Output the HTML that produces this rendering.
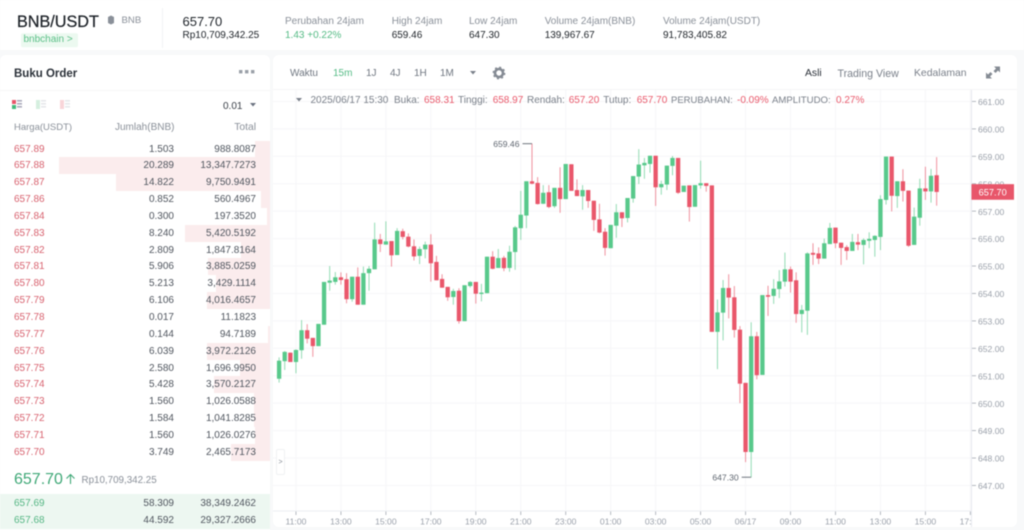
<!DOCTYPE html>
<html lang="id">
<head>
<meta charset="utf-8">
<title>BNB/USDT</title>
<style>
html,body{margin:0;padding:0;width:1024px;height:530px;overflow:hidden;background:#f8f9fa;font-family:"Liberation Sans",sans-serif;}
#page{position:relative;width:1024px;height:530px;overflow:hidden;filter:blur(0.4px);}
.card{position:absolute;background:#fff;}
.t{position:absolute;white-space:nowrap;line-height:12px;font-size:10px;color:#1e2329;transform:translateY(1.2px);}
.g{color:#8a9099;}
.gr{color:#55bb85;}
.re{color:#ea5a6c;}
.row{position:absolute;left:0;width:270px;height:16.85px;line-height:16.85px;font-size:10px;}
.row .bar{position:absolute;right:0;top:0;bottom:0;background:#fbeced;}
.row span{position:absolute;white-space:nowrap;transform:translateY(1.2px);}
.row .p{left:14px;color:#d8626f;}
.row .a{right:96px;color:#50565f;}
.row .v{right:14px;color:#50565f;}
.row.buy{background:#edf7f1;}
.row.buy .p{color:#55b684;}
#chart{position:absolute;left:0;top:0;}
</style>
</head>
<body>
<div id="page">

<div class="card" style="left:0;top:0;width:1024px;height:50px;"></div>
<div class="card" style="left:0;top:55px;width:270px;height:475px;border-radius:6px 6px 0 0;"></div>
<div class="card" style="left:273px;top:55px;width:744px;height:472px;border-radius:6px;"></div>

<span class="t" style="left:17px;top:13px;font-size:16.2px;line-height:16px;font-weight:500;color:#1e2329;-webkit-text-stroke:.25px #1e2329;">BNB/USDT</span>
<svg style="position:absolute;left:107px;top:15px;" width="8" height="10"><path d="M1 2 L4 .5 L7 2 V8 L4 9.5 L1 8 Z" fill="#8a9099"/></svg>
<span class="t g" style="left:121.5px;top:14px;font-size:9.6px;">BNB</span>
<span class="t" style="left:20.5px;top:32.3px;width:57px;height:14px;line-height:14px;background:#ecf9f0;color:#5cc088;text-indent:3px;border-radius:2px;">bnbchain &gt;</span>
<div style="position:absolute;left:162px;top:8px;width:1px;height:40px;background:#f2f3f5;"></div>

<span class="t" style="left:182.5px;top:15px;font-size:13px;">657.70</span>
<span class="t" style="left:182.5px;top:29px;">Rp10,709,342.25</span>
<span class="t g" style="left:285px;top:14.5px;">Perubahan 24jam</span>
<span class="t gr" style="left:285px;top:29px;">1.43 +0.22%</span>
<span class="t g" style="left:391.7px;top:14.5px;">High 24jam</span>
<span class="t" style="left:391.7px;top:29px;">659.46</span>
<span class="t g" style="left:469px;top:14.5px;">Low 24jam</span>
<span class="t" style="left:469px;top:29px;">647.30</span>
<span class="t g" style="left:544.7px;top:14.5px;">Volume 24jam(BNB)</span>
<span class="t" style="left:544.7px;top:29px;">139,967.67</span>
<span class="t g" style="left:663px;top:14.5px;">Volume 24jam(USDT)</span>
<span class="t" style="left:663px;top:29px;">91,783,405.82</span>

<!-- order book -->
<span class="t" style="left:14px;top:67px;font-size:11.5px;font-weight:bold;color:#2b3139;">Buku Order</span>
<svg style="position:absolute;left:238px;top:69px;" width="18" height="6"><rect x="1" y="1" width="3.4" height="3.4" fill="#9aa0a8"/><rect x="7" y="1" width="3.4" height="3.4" fill="#9aa0a8"/><rect x="13" y="1" width="3.4" height="3.4" fill="#9aa0a8"/></svg>
<div style="position:absolute;left:0;top:90px;width:270px;height:1px;background:#f6f6f7;"></div>
<svg style="position:absolute;left:12px;top:100px;" width="60" height="10">
<rect x="0" y="0" width="4" height="4" fill="#e8566a"/><rect x="0" y="5" width="4" height="4" fill="#45b97c"/><rect x="5" y="0" width="5" height="1.6" fill="#aab"/><rect x="5" y="3" width="5" height="1.6" fill="#aab"/><rect x="5" y="6" width="5" height="1.6" fill="#aab"/>
<rect x="24" y="0" width="4" height="9" fill="#d5efdf"/><rect x="29" y="0" width="5" height="1.6" fill="#e5e7ea"/><rect x="29" y="3" width="5" height="1.6" fill="#e5e7ea"/><rect x="29" y="6" width="5" height="1.6" fill="#e5e7ea"/>
<rect x="48" y="0" width="4" height="9" fill="#f8d5d9"/><rect x="53" y="0" width="5" height="1.6" fill="#e5e7ea"/><rect x="53" y="3" width="5" height="1.6" fill="#e5e7ea"/><rect x="53" y="6" width="5" height="1.6" fill="#e5e7ea"/>
</svg>
<span class="t" style="left:223px;top:99.5px;color:#3b4149;">0.01</span>
<svg style="position:absolute;left:249px;top:102px;" width="9" height="6"><path d="M1 1 H7 L4 4.5 Z" fill="#6b7280"/></svg>
<span class="t g" style="left:14px;top:120.5px;font-size:9.5px;">Harga(USDT)</span>
<span class="t g" style="left:115px;top:120.5px;font-size:10px;">Jumlah(BNB)</span>
<span class="t g" style="right:768px;top:120.5px;font-size:10.3px;">Total</span>

<div class="row" style="top:140.5px"><i class="bar" style="left:255px"></i><span class="p">657.89</span><span class="a">1.503</span><span class="v">988.8087</span></div>
<div class="row" style="top:157.35px"><i class="bar" style="left:59px"></i><span class="p">657.88</span><span class="a">20.289</span><span class="v">13,347.7273</span></div>
<div class="row" style="top:174.2px"><i class="bar" style="left:116px"></i><span class="p">657.87</span><span class="a">14.822</span><span class="v">9,750.9491</span></div>
<div class="row" style="top:191.05px"><i class="bar" style="left:261px"></i><span class="p">657.86</span><span class="a">0.852</span><span class="v">560.4967</span></div>
<div class="row" style="top:207.9px"><i class="bar" style="left:267px"></i><span class="p">657.84</span><span class="a">0.300</span><span class="v">197.3520</span></div>
<div class="row" style="top:224.75px"><i class="bar" style="left:185px"></i><span class="p">657.83</span><span class="a">8.240</span><span class="v">5,420.5192</span></div>
<div class="row" style="top:241.6px"><i class="bar" style="left:241px"></i><span class="p">657.82</span><span class="a">2.809</span><span class="v">1,847.8164</span></div>
<div class="row" style="top:258.45px"><i class="bar" style="left:208px"></i><span class="p">657.81</span><span class="a">5.906</span><span class="v">3,885.0259</span></div>
<div class="row" style="top:275.3px"><i class="bar" style="left:216px"></i><span class="p">657.80</span><span class="a">5.213</span><span class="v">3,429.1114</span></div>
<div class="row" style="top:292.15px"><i class="bar" style="left:207px"></i><span class="p">657.79</span><span class="a">6.106</span><span class="v">4,016.4657</span></div>
<div class="row" style="top:309px"><i class="bar" style="left:270px"></i><span class="p">657.78</span><span class="a">0.017</span><span class="v">11.1823</span></div>
<div class="row" style="top:325.85px"><i class="bar" style="left:268px"></i><span class="p">657.77</span><span class="a">0.144</span><span class="v">94.7189</span></div>
<div class="row" style="top:342.7px"><i class="bar" style="left:207px"></i><span class="p">657.76</span><span class="a">6.039</span><span class="v">3,972.2126</span></div>
<div class="row" style="top:359.55px"><i class="bar" style="left:240px"></i><span class="p">657.75</span><span class="a">2.580</span><span class="v">1,696.9950</span></div>
<div class="row" style="top:376.4px"><i class="bar" style="left:214px"></i><span class="p">657.74</span><span class="a">5.428</span><span class="v">3,570.2127</span></div>
<div class="row" style="top:393.25px"><i class="bar" style="left:254px"></i><span class="p">657.73</span><span class="a">1.560</span><span class="v">1,026.0588</span></div>
<div class="row" style="top:410.1px"><i class="bar" style="left:254px"></i><span class="p">657.72</span><span class="a">1.584</span><span class="v">1,041.8285</span></div>
<div class="row" style="top:426.95px"><i class="bar" style="left:255px"></i><span class="p">657.71</span><span class="a">1.560</span><span class="v">1,026.0276</span></div>
<div class="row" style="top:443.8px"><i class="bar" style="left:231px"></i><span class="p">657.70</span><span class="a">3.749</span><span class="v">2,465.7173</span></div>

<span class="t" style="left:14px;top:470px;font-size:16px;line-height:18px;color:#3fa877;">657.70</span>
<svg style="position:absolute;left:65px;top:473px;" width="11" height="12"><path d="M5.5 11 V1.5 M1.5 5.5 L5.5 1.5 L9.5 5.5" fill="none" stroke="#3fa877" stroke-width="1.1"/></svg>
<span class="t g" style="left:81.5px;top:473.5px;font-size:9.8px;">Rp10,709,342.25</span>

<div class="row buy" style="top:494px;height:17px;line-height:17px;"><span class="p">657.69</span><span class="a">58.309</span><span class="v">38,349.2462</span></div>
<div class="row buy" style="top:511px;height:18px;line-height:17px;"><span class="p">657.68</span><span class="a">44.592</span><span class="v">29,327.2666</span></div>

<!-- chart toolbar -->
<div style="position:absolute;left:273px;top:89px;width:744px;height:1px;background:#f5f5f6;"></div>
<span class="t" style="left:290px;top:67px;color:#6f7680;">Waktu</span>
<span class="t gr" style="left:333px;top:67px;">15m</span>
<span class="t" style="left:366px;top:67px;color:#6f7680;">1J</span>
<span class="t" style="left:390px;top:67px;color:#6f7680;">4J</span>
<span class="t" style="left:414px;top:67px;color:#6f7680;">1H</span>
<span class="t" style="left:440px;top:67px;color:#6f7680;">1M</span>
<svg style="position:absolute;left:469px;top:70px;" width="9" height="6"><path d="M1 1 H7 L4 4.5 Z" fill="#7a808a"/></svg>
<svg style="position:absolute;left:492px;top:66px;" width="14" height="14"><circle cx="7" cy="7" r="4" fill="none" stroke="#858b94" stroke-width="2.6"/><circle cx="7" cy="7" r="5.6" fill="none" stroke="#858b94" stroke-width="1.6" stroke-dasharray="2 2.4"/></svg>
<span class="t" style="left:805px;top:67px;color:#2b3139;font-size:10.4px;">Asli</span>
<span class="t" style="left:837.5px;top:67px;color:#7a808a;font-size:10.6px;">Trading View</span>
<span class="t" style="left:914px;top:67px;color:#7a808a;font-size:10.4px;">Kedalaman</span>
<svg style="position:absolute;left:985px;top:65px;" width="16" height="15"><path d="M9 1.5 H15 V7.5 L13 5.5 L10.5 8 L8.5 6 L11 3.5 Z M1 13.5 V7.5 L3 9.5 L5.5 7 L7.5 9 L5 11.5 L7 13.5 Z" fill="#858b94"/></svg>

<svg id="chart" width="1024" height="530" xmlns="http://www.w3.org/2000/svg">
<defs><clipPath id="plot-clip"><rect x="273" y="90" width="698.5" height="440"/></clipPath></defs>
</svg>

<!-- OHLC legend -->
<svg style="position:absolute;left:295px;top:97px;" width="9" height="6"><path d="M1 1 H7 L4 4.5 Z" fill="#7a808a"/></svg>
<span class="t" style="left:310.5px;top:94px;color:#7a808a;">2025/06/17 15:30</span>
<span class="t" style="left:394px;top:94px;color:#7a808a;">Buka:</span>
<span class="t re" style="left:424px;top:94px;">658.31</span>
<span class="t" style="left:458px;top:94px;color:#7a808a;">Tinggi:</span>
<span class="t re" style="left:492.7px;top:94px;">658.97</span>
<span class="t" style="left:527px;top:94px;color:#7a808a;">Rendah:</span>
<span class="t re" style="left:568.7px;top:94px;">657.20</span>
<span class="t" style="left:603.3px;top:94px;color:#7a808a;">Tutup:</span>
<span class="t re" style="left:636.7px;top:94px;">657.70</span>
<span class="t" style="left:671px;top:94px;color:#7a808a;font-size:9.5px;">PERUBAHAN:</span>
<span class="t re" style="left:737px;top:94px;">-0.09%</span>
<span class="t" style="left:772px;top:94px;color:#7a808a;font-size:9.6px;">AMPLITUDO:</span>
<span class="t re" style="left:836px;top:94px;">0.27%</span>

<div style="position:absolute;left:276px;top:449px;width:9px;height:26px;background:#fff;border:1px solid #f0f1f3;border-radius:2px;box-sizing:border-box;"></div>
<span class="t g" style="left:278.5px;top:456px;font-size:7px;">&gt;</span>
</div>

<script>
const priceTicks = [661,660,659,658,657,656,655,654,653,652,651,650,649,648,647];
const timeTickLabels = ["11:00","13:00","15:00","17:00","19:00","21:00","23:00","01:00","03:00","05:00","06/17","09:00","11:00","13:00","15:00","17:00"];
const opens = [650.89,651.53,651.84,651.50,651.93,652.66,652.38,652.08,652.86,654.39,654.42,654.59,654.52,653.79,654.61,653.59,654.74,654.88,655.97,655.78,655.91,655.40,656.27,656.07,655.72,655.37,655.61,655.78,655.15,654.53,654.24,653.87,654.10,652.99,654.27,654.42,653.98,654.01,655.34,654.93,655.30,654.93,655.51,656.38,656.84,658.09,658.03,657.27,657.69,657.18,657.85,657.44,658.71,657.77,657.54,657.77,657.38,656.70,656.25,655.65,656.47,656.96,656.75,657.46,658.26,658.67,658.72,659.02,657.87,657.97,658.65,658.94,657.70,657.94,657.16,657.94,658.02,657.94,652.60,653.30,654.20,653.86,652.68,650.74,648.22,652.44,651.03,653.94,653.91,654.16,654.43,654.88,654.48,653.25,653.37,655.48,655.46,655.27,655.80,656.40,655.85,655.69,655.55,655.87,655.77,655.92,655.95,656.06,657.41,658.99,657.55,658.09,657.75,655.77,656.76,657.83,657.72,658.31];
const highs = [651.67,651.90,651.85,651.96,653.03,652.88,652.38,652.89,654.42,655.00,654.78,654.77,654.74,654.61,654.95,654.98,655.00,656.58,656.17,656.63,655.91,656.38,656.36,656.19,655.97,655.71,655.89,656.16,655.37,654.70,654.24,654.17,654.19,654.30,654.45,654.42,654.35,655.34,655.54,655.62,655.37,655.74,656.46,657.74,658.09,659.46,658.24,657.95,657.95,657.85,658.60,658.72,658.71,658.16,657.95,657.77,657.38,657.27,656.38,656.50,657.26,656.96,657.48,658.28,659.26,658.94,659.02,659.02,658.11,658.66,659.01,658.94,657.93,657.94,657.95,658.84,658.02,657.94,653.78,654.49,654.70,654.27,652.81,650.74,652.95,652.60,653.94,654.28,654.52,654.85,655.49,654.98,654.77,653.58,655.50,655.83,655.68,656.00,656.57,656.40,655.85,655.76,656.17,656.17,656.01,656.23,656.12,657.58,658.99,658.99,658.09,658.53,657.75,657.13,658.18,658.62,658.54,658.97];
const lows = [650.75,651.21,651.50,651.09,651.62,652.18,651.69,652.08,652.86,654.10,654.32,654.32,653.64,653.70,653.59,653.59,654.10,654.88,655.51,655.78,654.98,655.40,655.97,655.68,655.20,655.07,655.28,654.43,654.48,654.21,653.73,653.59,652.90,652.99,654.21,653.63,653.71,654.01,654.88,654.93,654.81,654.79,654.86,655.95,656.38,657.98,657.24,657.26,657.11,657.12,656.94,657.44,657.74,657.55,657.05,657.12,656.28,656.19,655.38,655.65,656.03,656.42,656.59,657.31,657.99,658.18,658.40,657.19,657.60,657.77,658.31,657.63,657.70,656.62,657.16,657.82,657.71,652.60,651.24,652.29,653.09,652.39,650.00,647.85,647.30,650.87,651.03,653.18,653.62,653.83,654.25,654.03,652.93,652.58,652.49,655.04,655.07,655.27,655.80,655.65,655.04,655.22,655.55,655.58,655.06,655.65,655.34,655.58,657.24,656.99,657.12,657.35,655.70,655.77,656.47,657.41,657.31,657.20];
const closes = [651.55,651.87,651.50,651.94,652.66,652.35,652.08,652.89,654.42,654.47,654.59,654.49,653.79,654.61,653.59,654.74,654.90,655.97,655.80,655.90,655.39,656.28,656.06,655.71,655.35,655.62,655.78,655.10,654.48,654.21,653.86,654.09,652.99,654.30,654.42,653.99,654.03,655.34,654.90,655.29,654.92,655.52,656.41,656.87,658.09,658.00,657.26,657.67,657.15,657.85,657.44,658.72,657.74,657.55,657.77,657.37,656.68,656.22,655.66,656.50,656.96,656.74,657.48,658.28,658.70,658.76,659.02,657.87,657.99,658.66,658.94,657.67,657.93,657.15,657.95,658.02,657.92,652.60,653.31,654.20,653.85,652.67,650.71,648.22,652.44,651.02,653.94,653.88,654.17,654.44,654.88,654.43,653.25,653.40,655.46,655.41,655.27,655.83,656.39,655.83,655.66,655.55,655.88,655.78,655.95,655.99,656.10,657.44,658.99,657.56,658.09,657.74,655.74,656.80,657.83,657.72,658.29,657.70];
const currentPrice = 657.70;

const SVGNS = "http://www.w3.org/2000/svg";
const svg = document.getElementById("chart");
const plotRight = 971.5, axisBottom = 511, plotLeft = 273, plotTop = 90;
const firstX = 279.1, candleStep = 5.62, firstTickIndex = 3, ticksEvery = 8;
const refPrice = 659, refY = 156.3, pxPerUnit = 27.43;
const GREEN = "#58c98b", RED = "#e9576b";
function xScale(i){ return firstX + i * candleStep; }
function yScale(p){ return refY + (refPrice - p) * pxPerUnit; }
function make(tag, attrs, parent){
  const el = document.createElementNS(SVGNS, tag);
  for (const k in attrs) el.setAttribute(k, attrs[k]);
  (parent || svg).appendChild(el);
  return el;
}
const gridLayer = make("g", {});


const candleLayer = make("g", {"clip-path":"url(#plot-clip)"});



priceTicks.forEach(function(p){
  const y = yScale(p);
  const line = make("line", {x1:plotLeft, x2:plotRight, y1:y, y2:y, stroke:"#f6f6f8", "stroke-width":1}, gridLayer);
  
  
  const tick = make("line", {x1:plotRight, x2:plotRight+4.5, y1:y, y2:y, stroke:"#a4a9b2", "stroke-width":0.8});
  
  
  const label = make("text", {x:978, y:y+3.6, fill:"#9aa0aa", "font-size":"8.6", "font-family":"Liberation Sans, sans-serif"});
  label.textContent = p.toFixed(2);
  
  
});

timeTickLabels.forEach(function(txt, k){
  const x = xScale(firstTickIndex + k * ticksEvery);
  const line = make("line", {x1:x, x2:x, y1:plotTop, y2:axisBottom, stroke:"#f6f6f8", "stroke-width":1, "clip-path":"url(#plot-clip)"}, gridLayer);
  
  
  const tick = make("line", {x1:x, x2:x, y1:axisBottom, y2:axisBottom+4, stroke:"#a4a9b2", "stroke-width":0.8});
  
  
  const label = make("text", {x:x, y:524.7, fill:"#9aa0aa", "font-size":"8.6", "text-anchor":"middle", "font-family":"Liberation Sans, sans-serif", "clip-path":"url(#plot-clip)"});
  label.textContent = txt;
  
  
});

const yAxis = make("line", {x1:plotRight, x2:plotRight, y1:plotTop, y2:527, stroke:"#e8eaf0", "stroke-width":1});


const xAxis = make("line", {x1:plotLeft, x2:plotRight, y1:axisBottom, y2:axisBottom, stroke:"#eceef2", "stroke-width":1});



opens.forEach(function(open, i){
  const close = closes[i];
  const color = close >= open ? GREEN : RED;
  const x = xScale(i);
  const wick = make("line", {x1:x, x2:x, y1:yScale(highs[i]), y2:yScale(lows[i]), stroke:color, "stroke-width":1, opacity:0.65}, candleLayer);
  
  
  const top = yScale(Math.max(open, close));
  const h = Math.max(1.2, Math.abs(yScale(open) - yScale(close)));
  const body = make("rect", {x:x-2.15, y:top, width:4.3, height:h, fill:color}, candleLayer);
  
  
});

function annotate(i, price, side){
  const x = xScale(i), y = yScale(price);
  const line = make("line", {x1:x-9.5, x2:x, y1:y, y2:y, stroke:"#5f6670", "stroke-width":0.9});
  
  
  const label = make("text", {x:x-12.5, y:y+3.2, fill:"#5f6670", "font-size":"8.6", "text-anchor":"end", "font-family":"Liberation Sans, sans-serif"});
  label.textContent = price.toFixed(2);
  
  
}
const maxHigh = Math.max.apply(null, highs);
const minLow = Math.min.apply(null, lows);
annotate(highs.indexOf(maxHigh), maxHigh, "highest");
annotate(lows.indexOf(minLow), minLow, "lowest");

const tagY = yScale(currentPrice);
const tag = make("rect", {x:plotRight, y:tagY-7.8, width:42.5, height:15.6, fill:"#e8566a"});


const tagText = make("text", {x:plotRight+21.2, y:tagY+3.4, fill:"#fff", "font-size":"9.2", "text-anchor":"middle", "font-family":"Liberation Sans, sans-serif"});
tagText.textContent = currentPrice.toFixed(2);


</script>
</body>
</html>
